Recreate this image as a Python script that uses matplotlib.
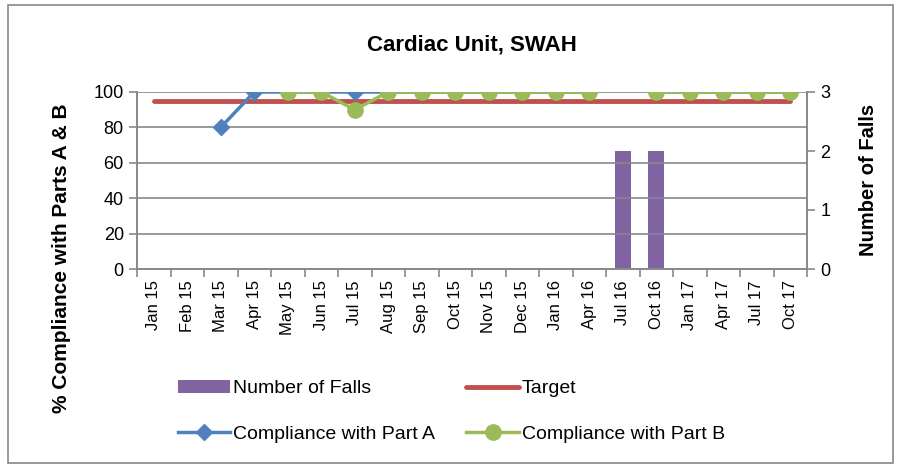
import numpy as np
import matplotlib
matplotlib.use("Agg")
import matplotlib.pyplot as plt
from matplotlib.patches import Rectangle

plt.rcParams['font.family'] = ['Liberation Sans', 'DejaVu Sans']

# datos del gráfico
months = ["Jan 15", "Feb 15", "Mar 15", "Apr 15", "May 15", "Jun 15", "Jul 15",
          "Aug 15", "Sep 15", "Oct 15", "Nov 15", "Dec 15", "Jan 16", "Apr 16",
          "Jul 16", "Oct 16", "Jan 17", "Apr 17", "Jul 17", "Oct 17"]
falls = [0, 0, 0, 0, 0, 0, 0, 0, 0, 0, 0, 0, 0, 0, 2, 2, 0, 0, 0, 0]
target = [95] * 20
part_a = [np.nan, np.nan, 80, 100, 100, 100, 100, 100, 100, 100, 100, 100,
          100, 100, np.nan, 100, 100, 100, 100, 100]
part_b = [np.nan, np.nan, np.nan, np.nan, 100, 100, 90, 100, 100, 100, 100, 100,
          100, 100, np.nan, 100, 100, 100, 100, 100]

x = np.arange(len(months))

fig = plt.figure(figsize=(8.98, 4.66), dpi=100)
fig.patches.append(Rectangle((8 / 898, 3 / 466), 885 / 898, 458 / 466,
                             transform=fig.transFigure, fill=False,
                             edgecolor='#888888', linewidth=1.2))

ax = fig.add_axes([137 / 898, 1 - 269 / 466, 670 / 898, 177 / 466])
ax2 = ax.twinx()

# barras en el eje secundario
bars = ax2.bar(x, falls, width=0.48, color='#8064A2', label='Number of Falls', zorder=2)
ax2.set_ylim(0, 3)
ax2.set_yticks([0, 1, 2, 3])

# líneas en el eje principal, dibujadas por encima
ax.set_zorder(ax2.get_zorder() + 1)
ax.patch.set_visible(False)
l_target, = ax.plot(x, target, color='#C0504D', linewidth=3.5,
                    solid_capstyle='round', label='Target', zorder=3)
l_a, = ax.plot(x, part_a, color='#4F81BD', linewidth=2.5, marker='D',
               markersize=8, label='Compliance with Part A', zorder=4)
l_b, = ax.plot(x, part_b, color='#9BBB59', linewidth=2.5, marker='o',
               markersize=11, label='Compliance with Part B', zorder=5)

ax.set_xlim(-0.5, len(months) - 0.5)
ax.set_ylim(0, 100)
ax.set_yticks(range(0, 101, 20))
ax.grid(axis='y', color='#888888', linewidth=1.2, zorder=0)
ax.set_axisbelow(True)

ax.set_xticks(x)
ax.set_xticklabels(months, rotation=90, fontsize=12)
ax.set_xticks(np.arange(-0.5, len(months)), minor=True)
ax.tick_params(axis='x', which='major', length=0, pad=8)
ax.tick_params(axis='x', which='minor', length=6, color='#888888', width=1.2)
ax.tick_params(axis='y', labelsize=13, length=6, color='#888888', width=1.2)
ax2.tick_params(axis='y', labelsize=13, length=6, color='#888888', width=1.2)

for a in (ax, ax2):
    for s in a.spines.values():
        s.set_color('#888888')
        s.set_linewidth(1.2)
    a.spines['top'].set_visible(False)

fig.text(0.5 * (137 + 807) / 898, 1 - 45 / 466, "Cardiac Unit, SWAH",
         fontsize=16, fontweight='bold', ha='center', va='center')
fig.text(62 / 898, 1 - 258 / 466, "% Compliance with Parts A & B", rotation=90,
         fontsize=15, fontweight='bold', ha='center', va='center')
fig.text(868 / 898, 1 - 180 / 466, "Number of Falls", rotation=90,
         fontsize=14.5, fontweight='bold', ha='center', va='center')

# orden: fila 1 barras/objetivo, fila 2 parte A/parte B
handles = [bars, l_a, l_target, l_b]
fig.legend(handles, [h.get_label() for h in handles], ncol=2,
           loc='upper left', bbox_to_anchor=(170 / 898, 1 - 372 / 466),
           frameon=False, fontsize=14, handlelength=2.7, handletextpad=0.15,
           columnspacing=1.6, labelspacing=1.45, borderaxespad=0)

fig.savefig("out.png", dpi=100)
